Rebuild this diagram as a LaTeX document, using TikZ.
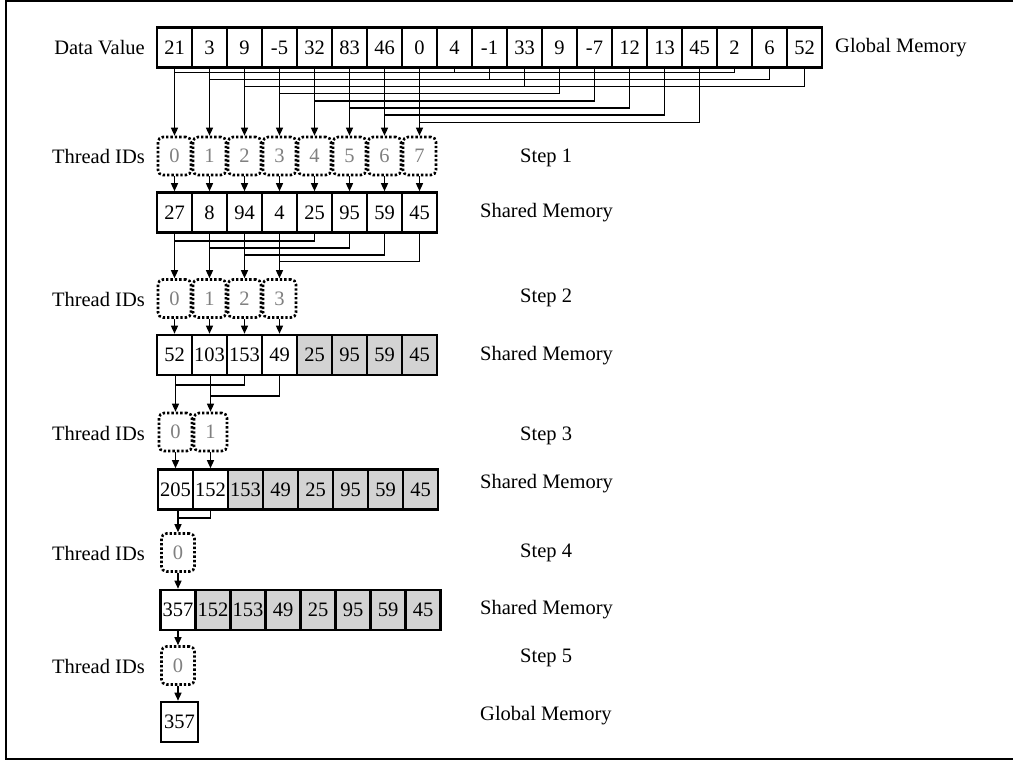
\documentclass[tikz,border=0pt]{standalone}
\usepackage{fontspec}
\setmainfont{Liberation Serif}
\usetikzlibrary{arrows.meta}
\definecolor{cellgray}{RGB}{211,211,211}
\definecolor{idgray}{RGB}{128,128,128}
\begin{document}
\begin{tikzpicture}[x=1pt,y=-1pt,
  font=\fontsize{20.5}{24}\selectfont,
  cell/.style={draw,line width=2.6pt,minimum width=35pt,minimum height=40pt,inner sep=0pt,fill=white},
  used/.style={cell,fill=cellgray},
  thr/.style={draw,line width=2.6pt,dash pattern=on 2.4pt off 2pt,rounded corners=5pt,minimum width=33pt,minimum height=38pt,inner sep=0pt,text=idgray},
  conn/.style={line width=1.4pt},
  arr/.style={line width=1.4pt,-{Triangle[length=8pt,width=7pt]}},
  lbl/.style={inner sep=0pt}]
\useasboundingbox (0,0) rectangle (1013,760);
\draw[line width=2.4pt] (6,1) rectangle (1015,759);

% labels
\node[lbl,anchor=east] (lData) at (145,47.5) {Data Value};
\node[lbl,anchor=west] (lGM1) at (835,48) {Global Memory};
\node[lbl,anchor=east] (lT1) at (145,156) {Thread IDs};
\node[lbl,anchor=east] (lT2) at (145,299) {Thread IDs};
\node[lbl,anchor=east] (lT3) at (145,433) {Thread IDs};
\node[lbl,anchor=east] (lT4) at (145,553) {Thread IDs};
\node[lbl,anchor=east] (lT5) at (145,666) {Thread IDs};
\node[lbl,anchor=west] (st1) at (520,158) {Step 1};
\node[lbl,anchor=west] (st2) at (520,298) {Step 2};
\node[lbl,anchor=west] (st3) at (520,436) {Step 3};
\node[lbl,anchor=west] (st4) at (520,553) {Step 4};
\node[lbl,anchor=west] (st5) at (520,658) {Step 5};
\node[lbl,anchor=west] (sm1) at (480,213) {Shared Memory};
\node[lbl,anchor=west] (sm2) at (480,356) {Shared Memory};
\node[lbl,anchor=west] (sm3) at (480,484) {Shared Memory};
\node[lbl,anchor=west] (sm4) at (480,610) {Shared Memory};
\node[lbl,anchor=west] (gm2) at (480,716) {Global Memory};

% global memory row
\foreach \v [count=\i from 0] in {21,3,9,-5,32,83,46,0,4,-1,33,9,-7,12,13,45,2,6,52}
  \node[cell] (g-\i) at ({174.5+35*\i},47.5) {\v};

% step 1 threads and shared row
\foreach \i in {0,...,7} {
  \node[thr] (t1-\i) at ({174.5+35*\i},156) {\i};
}
\foreach \v [count=\i from 0] in {27,8,94,4,25,95,59,45}
  \node[cell] (s1-\i) at ({174.5+35*\i},212.5) {\v};

% step 2
\foreach \i in {0,...,3} {
  \node[thr] (t2-\i) at ({174.5+35*\i},298.5) {\i};
}
\foreach \v [count=\i from 0] in {52,103,153,49}
  \node[cell] (s2-\i) at ({174.5+35*\i},355) {\v};
\foreach \v [count=\i from 4] in {25,95,59,45}
  \node[used] (s2-\i) at ({174.5+35*\i},355) {\v};

% step 3
\foreach \i in {0,1} {
  \node[thr] (t3-\i) at ({175.5+35*\i},432) {\i};
}
\foreach \v [count=\i from 0] in {205,152}
  \node[cell] (s3-\i) at ({175.5+35*\i},489.5) {\v};
\foreach \v [count=\i from 2] in {153,49,25,95,59,45}
  \node[used] (s3-\i) at ({175.5+35*\i},489.5) {\v};

% step 4
\node[thr] (t4-0) at (178,552.5) {0};
\node[cell] (s4-0) at (178,610) {357};
\foreach \v [count=\i from 1] in {152,153,49,25,95,59,45}
  \node[used] (s4-\i) at ({178+35*\i},610) {\v};

% step 5
\node[thr] (t5-0) at (178,665.5) {0};
\node[cell,minimum width=37pt] (fin) at (179.5,722) {357};

% ---- connectors step 1
\foreach \k in {0,...,7} {
  \coordinate (L\k) at (0,{72.5+7.1*\k});
  \pgfmathtruncatemacro{\a}{\k+8}
  \ifnum\k<3
    \pgfmathtruncatemacro{\b}{\k+16}
    \draw[conn] (g-\b.south) |- (g-\k.south |- L\k);
    \draw[conn] (g-\a.south) -- (g-\a.south |- L\k);
  \else
    \draw[conn] (g-\a.south) |- (g-\k.south |- L\k);
  \fi
  \draw[arr] (g-\k.south) -- (t1-\k.north);
  \draw[arr] (t1-\k.south) -- (s1-\k.north);
}

% ---- connectors step 2
\foreach \k in {0,...,3} {
  \coordinate (M\k) at (0,{241+6.9*\k});
  \pgfmathtruncatemacro{\a}{\k+4}
  \draw[conn] (s1-\a.south) |- (s1-\k.south |- M\k);
  \draw[arr] (s1-\k.south) -- (t2-\k.north);
  \draw[arr] (t2-\k.south) -- (s2-\k.north);
}

% ---- connectors step 3
\foreach \k in {0,1} {
  \coordinate (N\k) at (0,{385+11*\k});
  \pgfmathtruncatemacro{\a}{\k+2}
  \draw[conn] (s2-\a.south) |- (s2-\k.south |- N\k);
  \draw[arr] (s2-\k.south -| t3-\k.north) -- (t3-\k.north);
  \draw[arr] (t3-\k.south) -- (s3-\k.north);
}

% ---- connectors step 4
\coordinate (P0) at (0,518);
\draw[conn] (s3-1.south) |- (t4-0.north |- P0);
\draw[arr] (s3-0.south -| t4-0.north) -- (t4-0.north);
\draw[arr] (t4-0.south) -- (s4-0.north);

% ---- step 5
\draw[arr] (s4-0.south) -- (t5-0.north);
\draw[arr] (t5-0.south) -- (t5-0.south |- fin.north);
\end{tikzpicture}
\end{document}
